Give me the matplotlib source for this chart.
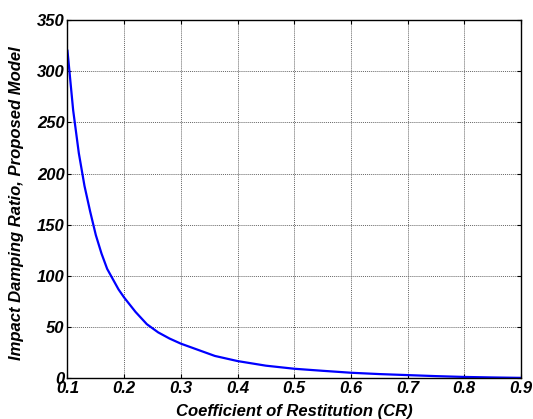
import matplotlib.pyplot as plt
import numpy as np

# Values
cr = [0.10, 0.11, 0.12, 0.13, 0.14, 0.15, 0.16, 0.17, 0.18, 0.19, 0.20,
      0.22, 0.24, 0.26, 0.28, 0.30, 0.33, 0.36, 0.40, 0.45, 0.50,
      0.55, 0.60, 0.65, 0.70, 0.75, 0.80, 0.85, 0.90]
damping = [320, 262, 220, 188, 163, 140, 122, 107, 97, 87, 79,
           65, 53, 45, 39, 34, 28, 22, 17, 12.5, 9.5,
           7.5, 5.6, 4.3, 3.3, 2.3, 1.5, 1.0, 0.6]

xticks = [0.1, 0.2, 0.3, 0.4, 0.5, 0.6, 0.7, 0.8, 0.9]
yticks = [0, 50, 100, 150, 200, 250, 300, 350]

plt.rcParams['font.family'] = 'Liberation Sans'

fig = plt.figure(figsize=(5.33, 4.19), dpi=100)
ax = fig.add_axes([0.1266, 0.0967, 0.851, 0.8556])

ax.plot(cr, damping, color='#0000ff', linewidth=1.6)

ax.set_xlim(0.1, 0.9)
ax.set_ylim(0, 350)
ax.set_xticks(xticks)
ax.set_yticks(yticks)
ax.set_xticklabels([f'{t:.1f}' for t in xticks])
ax.set_yticklabels([str(t) for t in yticks])

for lbl in ax.get_xticklabels() + ax.get_yticklabels():
    lbl.set_fontweight('bold')
    lbl.set_fontstyle('italic')
    lbl.set_fontsize(12)

ax.tick_params(direction='in', length=3, width=0.8, top=True, right=True, pad=2)
ax.grid(True, color='#666666', linestyle=(0, (1, 1)), linewidth=0.7)
for s in ax.spines.values():
    s.set_linewidth(1.0)

ax.set_xlabel('Coefficient of Restitution (CR)', fontsize=12, fontweight='bold',
              fontstyle='italic')
ax.set_ylabel('Impact Damping Ratio, Proposed Model', fontsize=12, fontweight='bold',
              fontstyle='italic')
ax.xaxis.set_label_coords(0.5, -0.072)
ax.yaxis.set_label_coords(-0.095, 0.49)

fig.savefig('out.png', dpi=100)
